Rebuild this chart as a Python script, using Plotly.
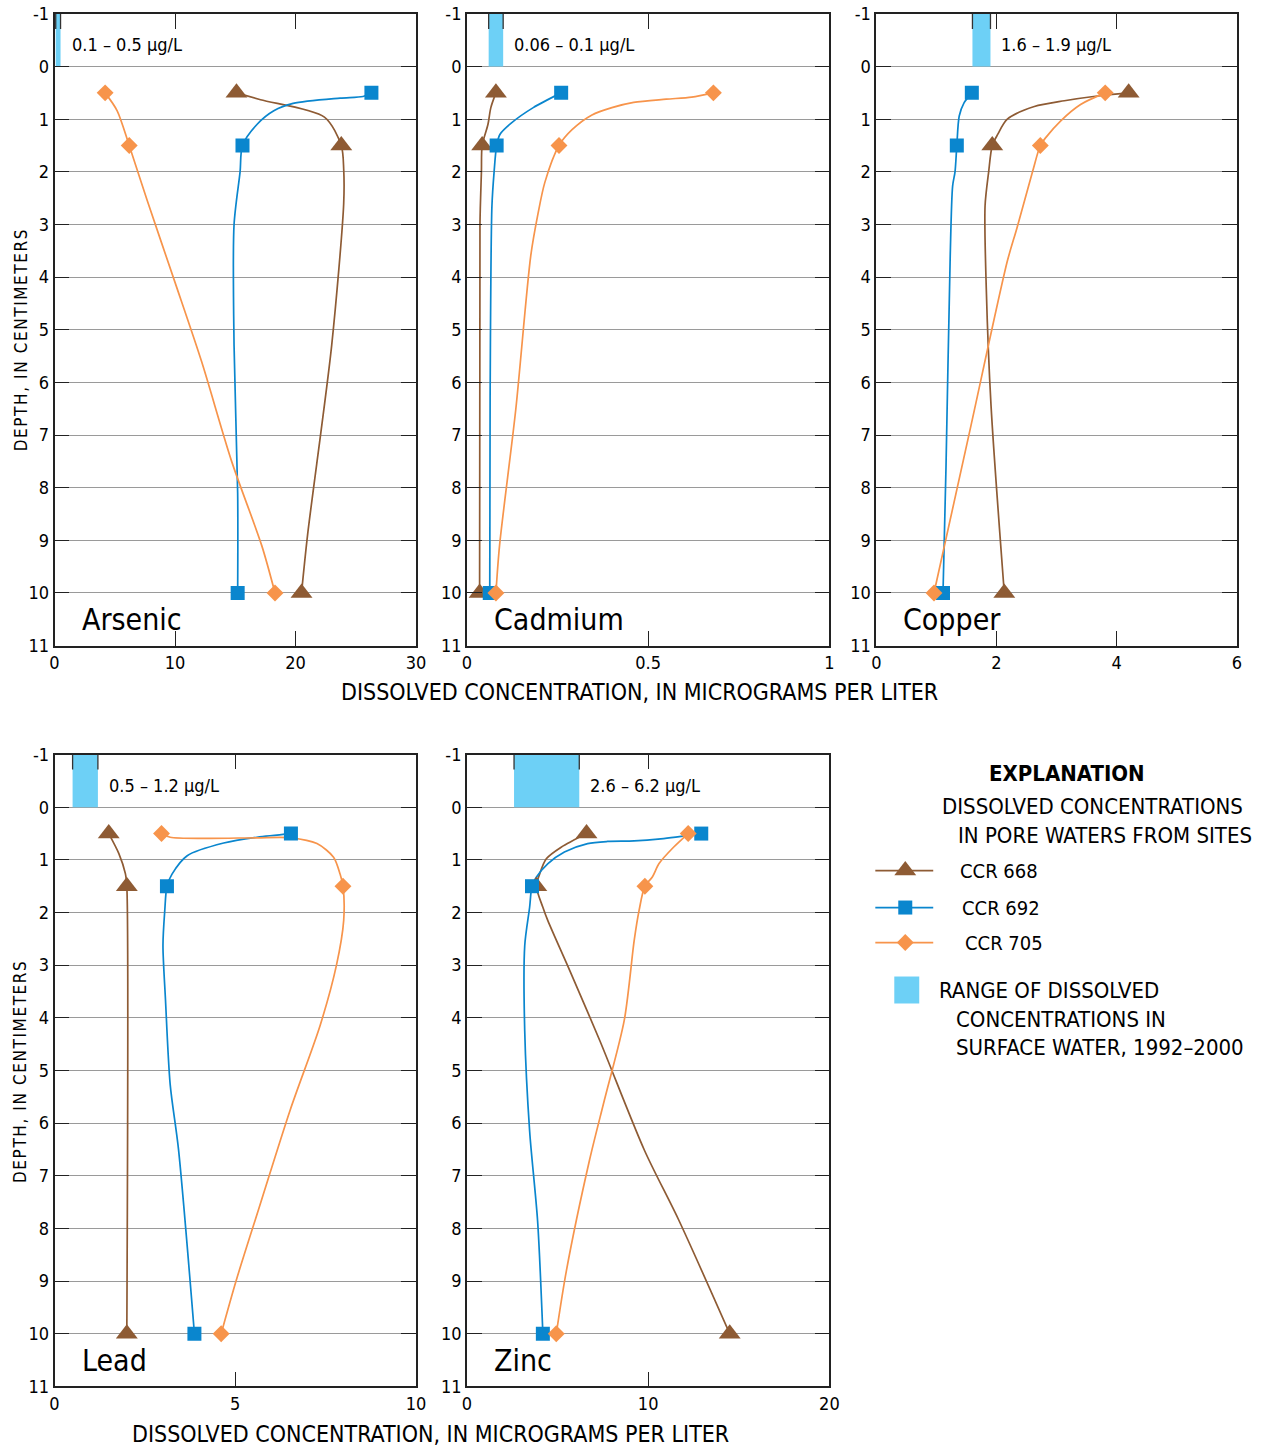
import plotly.graph_objects as go

# Target window and the calibration between figure pixels and window pixels
W, H = 1267, 1449
SCREEN_X0, SCREEN_Y0 = 4.4, 10.1
SCREEN_SX, SCREEN_SY = 0.9897, 0.986
FIG_W = round((W - SCREEN_X0) / SCREEN_SX)
FIG_H = round((H - SCREEN_Y0) / SCREEN_SY)

BROWN = "#8E5B34"
BLUE = "#0A86CE"
ORANGE = "#F7944B"
RANGE_BLUE = "#6DD0F6"

SITES = ["CCR 668", "CCR 692", "CCR 705"]
ELEMENTS = ["Arsenic", "Cadmium", "Copper", "Lead", "Zinc"]
SAMPLE_DEPTH = [0.5, 1.5, 10]

# Surface-water ranges, 1992-2000 (micrograms per liter)
RANGE_LO = [0.1, 0.06, 1.6, 0.5, 2.6]
RANGE_HI = [0.5, 0.1, 1.9, 1.2, 6.2]
RANGE_TEXT = ["0.1 – 0.5 μg/L", "0.06 – 0.1 μg/L", "1.6 – 1.9 μg/L",
              "0.5 – 1.2 μg/L", "2.6 – 6.2 μg/L"]

# Axis scales
X_MAX = [30, 1, 6, 10, 20]
X_TICKS = [[0, 10, 20, 30], [0, 0.5, 1], [0, 2, 4, 6], [0, 5, 10], [0, 10, 20]]
X_TICKTEXT = [["0", "10", "20", "30"], ["0", "0.5", "1"], ["0", "2", "4", "6"],
              ["0", "5", "10"], ["0", "10", "20"]]
DEPTH_TICKS = list(range(-1, 12))

# ---- Arsenic ----
AS_668 = [15.1, 23.8, 20.5]
AS_692 = [26.3, 15.6, 15.2]
AS_705 = [4.2, 6.2, 18.3]
AS_668_D = [0.5, 0.63, 0.96, 1.5, 1.95, 2.6, 5.3, 8.9, 10]
AS_668_C = [15.1, 17.1, 22.4, 23.8, 24.0, 24.0, 23.0, 21.0, 20.5]
AS_692_D = [0.5, 0.57, 0.6, 0.7, 0.84, 1.1, 1.5, 2.0, 3.0, 5.3, 8.1, 10]
AS_692_C = [26.3, 25.6, 23.7, 19.8, 18.2, 16.8, 15.6, 15.4, 14.9, 14.9, 15.2, 15.2]
AS_705_D = [0.5, 0.84, 1.5, 2.55, 4.1, 5.6, 7.5, 9.1, 10]
AS_705_C = [4.2, 5.2, 6.2, 7.7, 10.0, 12.2, 14.7, 17.2, 18.3]

# ---- Cadmium ----
CD_668 = [0.08, 0.042, 0.035]
CD_692 = [0.26, 0.082, 0.063]
CD_705 = [0.68, 0.254, 0.08]
CD_668_D = [0.5, 0.78, 1.1, 1.5, 2.0, 3.0, 10]
CD_668_C = [0.08, 0.066, 0.058, 0.042, 0.04, 0.036, 0.035]
CD_692_D = [0.5, 0.78, 1.07, 1.29, 1.5, 2.0, 2.65, 6.3, 10]
CD_692_C = [0.26, 0.183, 0.123, 0.091, 0.082, 0.075, 0.069, 0.064, 0.063]
CD_705_D = [0.5, 0.58, 0.62, 0.68, 0.78, 0.92, 1.2, 1.5, 2.2, 2.8, 3.6, 6.5, 9.1, 10]
CD_705_C = [0.68, 0.62, 0.55, 0.46, 0.40, 0.345, 0.29, 0.254, 0.215, 0.196, 0.176, 0.135, 0.09, 0.08]

# ---- Copper ----
CU_668 = [4.2, 1.93, 2.13]
CU_692 = [1.59, 1.34, 1.11]
CU_705 = [3.81, 2.73, 0.96]
CU_668_D = [0.5, 0.56, 0.65, 0.76, 1.0, 1.29, 1.5, 2.0, 2.65, 4.2, 6.45, 10]
CU_668_C = [4.2, 3.68, 3.13, 2.63, 2.18, 2.02, 1.93, 1.87, 1.81, 1.83, 1.91, 2.13]
CU_692_D = [0.5, 0.69, 0.94, 1.5, 2.0, 2.27, 3.6, 7.6, 10]
CU_692_C = [1.59, 1.46, 1.38, 1.34, 1.31, 1.27, 1.23, 1.16, 1.11]
CU_705_D = [0.5, 0.72, 1.03, 1.35, 1.5, 2.0, 3.07, 3.7, 6.85, 10]
CU_705_C = [3.81, 3.40, 3.07, 2.82, 2.73, 2.60, 2.34, 2.18, 1.57, 0.96]

# ---- Lead ----
PB_668 = [1.5, 2.0, 2.0]
PB_692 = [6.54, 3.11, 3.87]
PB_705 = [2.96, 7.98, 4.61]
PB_668_D = [0.5, 0.88, 1.26, 1.5, 10]
PB_668_C = [1.5, 1.78, 1.96, 2.0, 2.0]
PB_692_D = [0.5, 0.57, 0.68, 0.92, 1.27, 1.5, 1.96, 2.62, 3.66, 5.27, 6.5, 10]
PB_692_C = [6.54, 5.6, 4.68, 3.67, 3.25, 3.11, 3.05, 3.0, 3.07, 3.2, 3.43, 3.87]
PB_705_D = [0.5, 0.57, 0.59, 0.58, 0.58, 0.69, 0.95, 1.27, 1.5, 2.15, 3.0, 4.14, 5.75, 7.65, 8.98, 10]
PB_705_C = [2.96, 3.2, 4.22, 5.6, 6.54, 7.26, 7.72, 7.9, 7.98, 8.0, 7.8, 7.35, 6.52, 5.64, 5.03, 4.61]

# ---- Zinc ----
ZN_668 = [6.6, 3.83, 14.5]
ZN_692 = [12.93, 3.59, 4.19]
ZN_705 = [12.21, 9.82, 4.93]
ZN_668_D = [0.5, 0.76, 0.98, 1.27, 1.5, 1.9, 2.15, 3.1, 4.43, 6.52, 7.85, 10]
ZN_668_C = [6.6, 5.2, 4.38, 4.01, 3.83, 4.19, 4.46, 5.67, 7.33, 9.8, 11.7, 14.5]
ZN_692_D = [0.5, 0.6, 0.64, 0.65, 0.69, 0.85, 1.07, 1.33, 1.5, 1.9, 2.63, 4.25, 6.15, 7.86, 10]
ZN_692_C = [12.93, 10.7, 9.23, 7.76, 6.66, 5.38, 4.47, 3.83, 3.59, 3.46, 3.19, 3.19, 3.46, 3.9, 4.19]
ZN_705_D = [0.5, 0.76, 1.07, 1.32, 1.5, 1.96, 2.53, 4.05, 5.57, 6.71, 8.8, 10]
ZN_705_C = [12.21, 11.4, 10.6, 10.24, 9.82, 9.5, 9.23, 8.68, 7.58, 6.76, 5.49, 4.93]

SAMPLES = [
    [AS_668, AS_692, AS_705],
    [CD_668, CD_692, CD_705],
    [CU_668, CU_692, CU_705],
    [PB_668, PB_692, PB_705],
    [ZN_668, ZN_692, ZN_705],
]
PROFILES = [
    [(AS_668_D, AS_668_C), (AS_692_D, AS_692_C), (AS_705_D, AS_705_C)],
    [(CD_668_D, CD_668_C), (CD_692_D, CD_692_C), (CD_705_D, CD_705_C)],
    [(CU_668_D, CU_668_C), (CU_692_D, CU_692_C), (CU_705_D, CU_705_C)],
    [(PB_668_D, PB_668_C), (PB_692_D, PB_692_C), (PB_705_D, PB_705_C)],
    [(ZN_668_D, ZN_668_C), (ZN_692_D, ZN_692_C), (ZN_705_D, ZN_705_C)],
]

SITE_COLORS = [BROWN, BLUE, ORANGE]
SITE_SYMBOLS = ["triangle-up", "square", "diamond"]
SITE_SIZES = [19, 14, 13]

COND = "DejaVu Sans Condensed, DejaVu Sans, sans-serif"

# Panel frames in window pixels: (left, right, top, bottom)
PANELS_PX = [
    (54, 416, 13, 645), (467, 830, 13, 645), (877, 1238, 13, 645),
    (54, 416, 754, 1386), (467, 830, 754, 1386),
]


def fx(px):
    return (px - SCREEN_X0) / SCREEN_SX / FIG_W


def fy(py):
    return 1 - (py - SCREEN_Y0) / SCREEN_SY / FIG_H


fig = go.Figure()
layout = dict(
    width=FIG_W, height=FIG_H, autosize=False,
    margin=dict(l=0, r=0, t=0, b=0),
    paper_bgcolor="white", plot_bgcolor="rgba(0,0,0,0)",
    showlegend=False,
    font=dict(family=COND, size=18, color="black"),
)
shapes = []
annotations = []

for i in range(5):
    n = "" if i == 0 else str(i + 1)
    xa, ya = "x" + n, "y" + n
    left, right, top, bottom = PANELS_PX[i]
    layout["xaxis" + n] = dict(
        domain=[fx(left), fx(right)], anchor=ya, range=[0, X_MAX[i]],
        tickvals=X_TICKS[i], ticktext=X_TICKTEXT[i],
        ticks="inside", ticklen=15, tickwidth=1.3, tickcolor="#222",
        showline=True, linecolor="#222", linewidth=1.6, mirror="ticks",
        showgrid=False, zeroline=False,
        tickfont=dict(family=COND, size=18, color="black"),
    )
    layout["yaxis" + n] = dict(
        domain=[fy(bottom), fy(top)], anchor=xa, range=[11, -1],
        tickvals=DEPTH_TICKS, ticktext=[str(v) for v in DEPTH_TICKS],
        ticks="inside", ticklen=15, tickwidth=1.3, tickcolor="#222",
        showline=True, linecolor="#222", linewidth=1.6, mirror="ticks",
        showgrid=True, gridcolor="#9a9a9a", gridwidth=1, zeroline=False,
        tickfont=dict(family=COND, size=18, color="black"),
    )

    # surface-water range band
    fig.add_trace(go.Bar(
        x=[RANGE_HI[i] - RANGE_LO[i]], base=[RANGE_LO[i]], y=[-0.5], width=[1],
        orientation="h", marker=dict(color=RANGE_BLUE, line=dict(width=0)),
        xaxis=xa, yaxis=ya, hoverinfo="skip",
    ))
    for edge in (RANGE_LO[i], RANGE_HI[i]):
        shapes.append(dict(
            type="line", xref=xa, yref=ya, x0=edge, x1=edge,
            ysizemode="pixel", yanchor=-1, y0=0, y1=-15,
            line=dict(color="#333", width=1.3),
        ))
    annotations.append(dict(
        text=RANGE_TEXT[i], xref=xa, yref=ya, x=RANGE_HI[i], y=-0.42,
        xanchor="left", yanchor="middle", xshift=9, showarrow=False,
        font=dict(family=COND, size=18, color="black"),
    ))

    # depth profiles
    for s in range(3):
        d, c = PROFILES[i][s]
        fig.add_trace(go.Scatter(
            x=c, y=d, mode="lines", xaxis=xa, yaxis=ya,
            line=dict(color=SITE_COLORS[s], width=1.7, shape="spline", smoothing=0.8),
            hoverinfo="skip",
        ))
    for s in range(3):
        fig.add_trace(go.Scatter(
            x=SAMPLES[i][s], y=SAMPLE_DEPTH, mode="markers", xaxis=xa, yaxis=ya,
            name=SITES[s],
            marker=dict(color=SITE_COLORS[s], symbol=SITE_SYMBOLS[s],
                        size=SITE_SIZES[s], line=dict(width=0)),
        ))

    annotations.append(dict(
        text=ELEMENTS[i], xref=xa + " domain", yref=ya, x=0, y=10.5,
        xanchor="left", yanchor="middle", xshift=25, showarrow=False,
        font=dict(family=COND, size=30, color="black"),
    ))

# window-pixel overlay for titles and the explanation block
layout["xaxis6"] = dict(domain=[0, 1],
                        range=[SCREEN_X0, SCREEN_X0 + SCREEN_SX * FIG_W],
                        visible=False, anchor="y6")
layout["yaxis6"] = dict(domain=[0, 1],
                        range=[SCREEN_Y0 + SCREEN_SY * FIG_H, SCREEN_Y0],
                        visible=False, anchor="x6")


def px_text(text, x, y, size, xanchor="left", angle=0, bold=False):
    if bold:
        text = "<b>" + text + "</b>"
    annotations.append(dict(
        text=text, xref="x6", yref="y6", x=x, y=y, xanchor=xanchor,
        yanchor="middle", showarrow=False, textangle=angle,
        font=dict(family=COND, size=size, color="black"),
    ))


XTITLE = "DISSOLVED CONCENTRATION, IN MICROGRAMS PER LITER"
YTITLE = '<span style="letter-spacing:1.6px">DEPTH, IN CENTIMETERS</span>'
px_text(XTITLE, 640, 691, 23, xanchor="center")
px_text(XTITLE, 431, 1434, 23, xanchor="center")
px_text(YTITLE, 20, 339, 17, xanchor="center", angle=-90)
px_text(YTITLE, 20, 1071, 17, xanchor="center", angle=-90)

# explanation
px_text("EXPLANATION", 1068, 773, 22, xanchor="center", bold=True)
px_text("DISSOLVED CONCENTRATIONS", 941, 806, 22)
px_text("IN PORE WATERS FROM SITES", 957, 835, 22)
LEG_Y = [870, 907, 942]
LEG_TX = [959, 961, 964]
for s in range(3):
    fig.add_trace(go.Scatter(
        x=[876, 934], y=[LEG_Y[s], LEG_Y[s]], mode="lines", xaxis="x6", yaxis="y6",
        line=dict(color=SITE_COLORS[s], width=1.8), hoverinfo="skip",
    ))
    fig.add_trace(go.Scatter(
        x=[906], y=[LEG_Y[s]], mode="markers", xaxis="x6", yaxis="y6",
        marker=dict(color=SITE_COLORS[s], symbol=SITE_SYMBOLS[s],
                    size=SITE_SIZES[s], line=dict(width=0)),
        hoverinfo="skip",
    ))
    px_text(SITES[s], LEG_TX[s], LEG_Y[s], 20)

shapes.append(dict(type="rect", xref="x6", yref="y6", x0=895, x1=920, y0=976, y1=1003,
                   fillcolor=RANGE_BLUE, line=dict(width=0)))
px_text("RANGE OF DISSOLVED", 938, 990, 22)
px_text("CONCENTRATIONS IN", 955, 1019, 22)
px_text("SURFACE WATER, 1992–2000", 955, 1047, 22)

layout["shapes"] = shapes
layout["annotations"] = annotations
fig.update_layout(**layout)

fig.write_html("out.html")
